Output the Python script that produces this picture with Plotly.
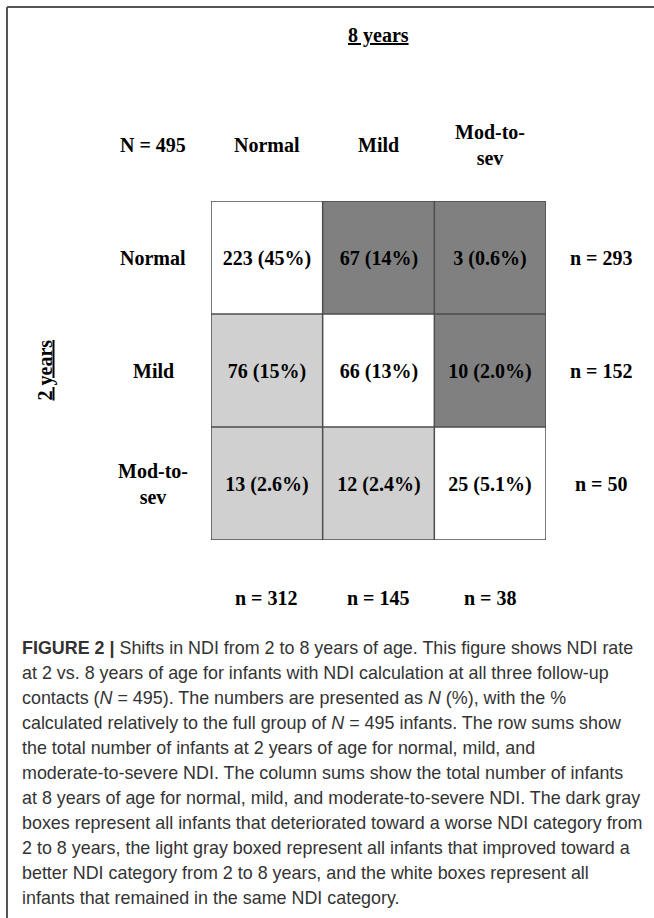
import plotly.graph_objects as go

# ---- data ----
col_labels = ["Normal", "Mild", "Mod-to-<br>sev"]
row_labels = ["Normal", "Mild", "Mod-to-<br>sev"]
counts = [[223, 67, 3],
          [76, 66, 10],
          [13, 12, 25]]
pct_labels = [["45%", "14%", "0.6%"],
              ["15%", "13%", "2.0%"],
              ["2.6%", "2.4%", "5.1%"]]
# 0 = same category (white), 1 = improved (light gray), 2 = deteriorated (dark gray)
shift_class = [[0, 2, 2],
               [1, 0, 2],
               [1, 1, 0]]
row_sums = [293, 152, 50]
col_sums = [312, 145, 38]
total_n = 495
top_title = "8 years"
side_title = "2 years"
caption_lines = [
    "<b>FIGURE 2 |</b> Shifts in NDI from 2 to 8 years of age. This figure shows NDI rate",
    "at 2 vs. 8 years of age for infants with NDI calculation at all three follow-up",
    "contacts (<i>N</i> = 495). The numbers are presented as <i>N</i> (%), with the %",
    "calculated relatively to the full group of <i>N</i> = 495 infants. The row sums show",
    "the total number of infants at 2 years of age for normal, mild, and",
    "moderate-to-severe NDI. The column sums show the total number of infants",
    "at 8 years of age for normal, mild, and moderate-to-severe NDI. The dark gray",
    "boxes represent all infants that deteriorated toward a worse NDI category from",
    "2 to 8 years, the light gray boxed represent all infants that improved toward a",
    "better NDI category from 2 to 8 years, and the white boxes represent all",
    "infants that remained in the same NDI category.",
]

# ---- layout constants ----
W, H = 654, 918
def px(x):
    return x / W
def py(y):
    return 1 - y / H

SERIF = "Liberation Serif"
SANS = "Liberation Sans"
FS = 20
cell_text = [[f"{counts[r][c]} ({pct_labels[r][c]})" for c in range(3)] for r in range(3)]

fig = go.Figure()
fig.add_trace(go.Heatmap(
    z=shift_class, x=[0, 1, 2], y=[0, 1, 2],
    text=cell_text, texttemplate="%{text}",
    textfont=dict(family=SERIF, size=FS, color="black", weight="bold"),
    colorscale=[[0, "#ffffff"], [0.5, "#d1d0d1"], [1, "#808080"]],
    zmin=0, zmax=2, showscale=False, hoverinfo="skip",
))

shapes = []
grid_color = "#4d4d4d"
for k in range(4):
    b = k - 0.5
    shapes.append(dict(type="line", xref="x", yref="y", x0=b, x1=b, y0=-0.5, y1=2.5,
                       line=dict(color=grid_color, width=1.5)))
    shapes.append(dict(type="line", xref="x", yref="y", x0=-0.5, x1=2.5, y0=b, y1=b,
                       line=dict(color=grid_color, width=1.5)))
# frame
shapes.append(dict(type="line", xref="paper", yref="paper", x0=px(7), x1=px(7), y0=py(7), y1=-0.01,
                   line=dict(color="#555555", width=2)))
shapes.append(dict(type="line", xref="paper", yref="paper", x0=px(7), x1=1.01, y0=py(7), y1=py(7),
                   line=dict(color="#555555", width=2)))

ann = []
bold_serif = dict(family=SERIF, size=FS, color="black", weight="bold")
ann.append(dict(text=f"<u>{top_title}</u>", xref="x", yref="paper", x=1, y=py(35),
                showarrow=False, font=bold_serif, xanchor="center", yanchor="middle"))
ann.append(dict(text=f"<u>{side_title}</u>", xref="paper", yref="y", x=px(45), y=1,
                showarrow=False, font=bold_serif, textangle=-90, xanchor="center", yanchor="middle"))
ann.append(dict(text=f"N = {total_n}", xref="paper", yref="paper", x=px(153), y=py(145),
                showarrow=False, font=bold_serif, xanchor="center", yanchor="middle"))
for i, lab in enumerate(col_labels):
    ann.append(dict(text=lab, xref="x", yref="paper", x=i, y=py(145), showarrow=False,
                    font=bold_serif, xanchor="center", yanchor="middle"))
for i, lab in enumerate(row_labels):
    ann.append(dict(text=lab, xref="paper", yref="y", x=px(153), y=i, showarrow=False,
                    font=bold_serif, xanchor="center", yanchor="middle"))
for i, s in enumerate(row_sums):
    ann.append(dict(text=f"n = {s}", xref="paper", yref="y", x=px(601), y=i, showarrow=False,
                    font=bold_serif, xanchor="center", yanchor="middle"))
for i, s in enumerate(col_sums):
    ann.append(dict(text=f"n = {s}", xref="x", yref="paper", x=i, y=py(598), showarrow=False,
                    font=bold_serif, xanchor="center", yanchor="middle"))
for i, line in enumerate(caption_lines):
    ann.append(dict(text=line, xref="paper", yref="paper", x=px(20), y=py(648 + 25 * i),
                    showarrow=False, font=dict(family=SANS, size=17.9, color="#333333"),
                    xanchor="left", yanchor="middle", align="left"))

fig.update_layout(
    width=W, height=H, margin=dict(l=0, r=0, t=0, b=0),
    paper_bgcolor="white", plot_bgcolor="white",
    xaxis=dict(domain=[px(211), px(546)], range=[-0.5, 2.5], visible=False, fixedrange=True),
    yaxis=dict(domain=[py(540), py(201)], range=[2.5, -0.5], visible=False, fixedrange=True),
    shapes=shapes, annotations=ann, showlegend=False,
)
fig.write_html("out.html",
               config={"displayModeBar": False, "staticPlot": True},
               post_script="document.body.style.margin='0';document.body.style.padding='0';"
                           "document.body.style.overflow='hidden';")
